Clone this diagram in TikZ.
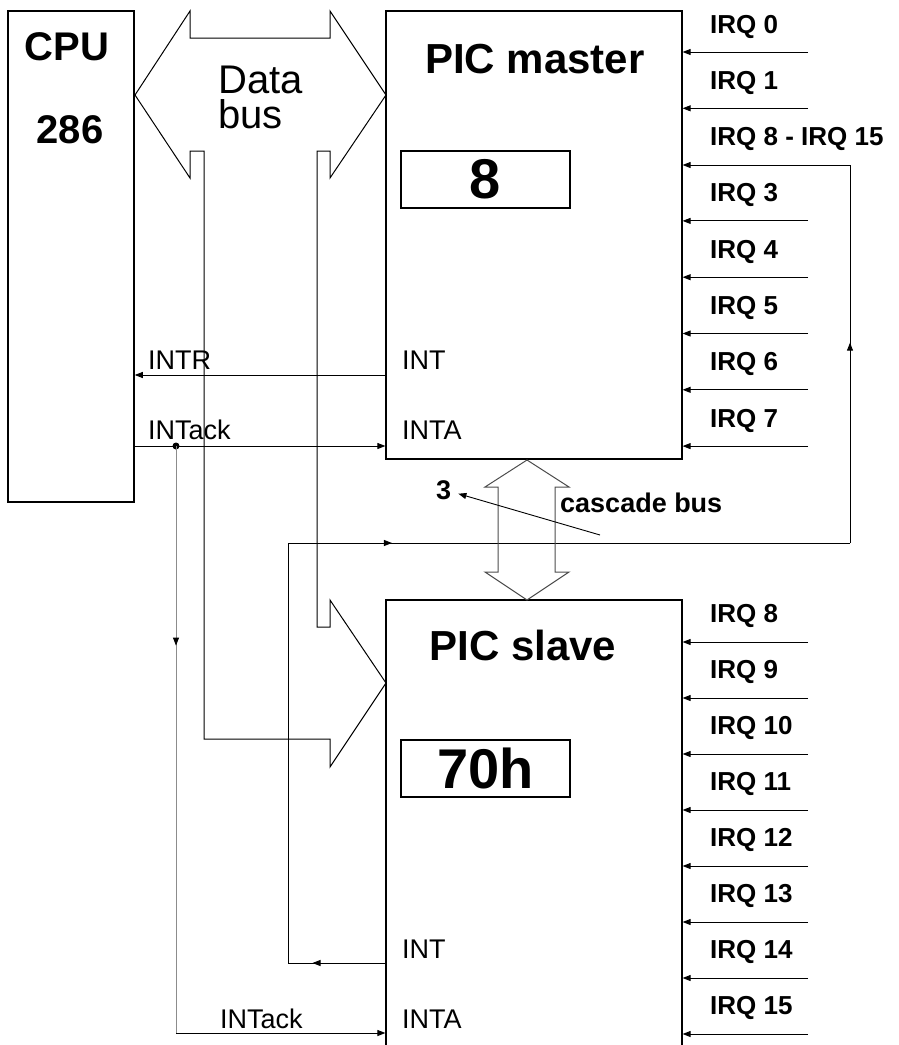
\documentclass[tikz,border=0pt]{standalone}
\usepackage{fontspec}
\setmainfont{Liberation Sans}
\usetikzlibrary{arrows.meta, positioning, calc, decorations.markings}

\tikzset{
  chip/.style={draw, line width=1.2pt, inner sep=0pt},
  regbox/.style={draw, line width=2pt, inner sep=0pt, minimum width=169pt, minimum height=57pt,
    font=\fontsize{56}{56}\selectfont\bfseries},
  wire/.style={line width=0.9pt},
  tip/.style={-{Triangle[length=8pt,width=6pt]}},
  midtip/.style={postaction={decorate}, decoration={markings,
    mark=at position #1 with {\arrow{Triangle[length=8pt,width=6pt]}}}},
  title/.style={font=\fontsize{42}{42}\selectfont\bfseries, anchor=base, inner sep=0pt},
  sig/.style={font=\fontsize{27}{27}\selectfont, anchor=base west, inner sep=0pt},
  irq/.style={font=\fontsize{26}{26}\selectfont\bfseries, anchor=base west, inner sep=0pt},
}

\begin{document}
\begin{tikzpicture}[x=1pt,y=-1pt]
  \useasboundingbox (0,0) rectangle (899,1045);
  % chips
  \node[chip, line width=1.5pt, minimum width=126pt, minimum height=491pt] (cpu) at (71,256.5) {};
  \node[chip, minimum width=296pt, minimum height=448pt] (master) at (534,235) {};
  \node[chip, minimum width=296pt, minimum height=470pt] (slave) at (534,835) {};
  \node[regbox] (vecm) at (485.5,179.5) {8};
  \node[regbox] (vecs) at (485.5,768.5) {70h};
  % titles
  \node[font=\fontsize{40}{40}\selectfont\bfseries, anchor=base, inner sep=0pt] (cpuname) at (67,60) {CPU};
  \node[font=\fontsize{40}{40}\selectfont\bfseries, anchor=base, inner sep=0pt] (cputype) at (70,143) {286};
  \node[title] (mname) at (535,73) {PIC master};
  \node[title] (sname) at (523,660) {PIC slave};
  % data bus
  \draw[line width=1pt, line join=miter]
    (135,95) -- (190,11) -- (190,38) -- (330,38) -- (330,11) -- (386,95) -- (330,178)
    -- (330,151) -- (317,151) -- (317,627) -- (330,627) -- (330,600) -- (386,683)
    -- (330,767) -- (330,739) -- (204,739) -- (204,151) -- (190,151) -- (190,178) -- cycle;
  \node[font=\fontsize{40}{35}\selectfont, align=left, anchor=base west, inner sep=0pt] (busname)
    at (218,128) {Data\\bus};
  % signal names
  \node[sig] (lintr) at (148,369) {INTR};
  \node[sig] (lack) at (148,439) {INTack};
  \node[sig] (lintm) at (402,369) {INT};
  \node[sig] (lintam) at (402,439) {INTA};
  \node[sig] (lints) at (402,958) {INT};
  \node[sig] (lintas) at (402,1028) {INTA};
  \node[sig] (lacks) at (220,1028) {INTack};
  % INT / INTA wires
  \coordinate (mint) at (386,375);
  \draw[wire, tip] (mint) -- (mint -| cpu.east);
  \coordinate (cack) at (134,446);
  \draw[wire, tip] (cack) -- (cack -| master.west);
  \node[circle, fill, inner sep=0pt, minimum size=7pt] (tap) at (176,446) {};
  \coordinate (sack) at (176,1033);
  \draw[wire, black!45] (tap.center) -- (sack);
  \draw[wire, draw=none, midtip=0.34] (tap.center) -- (sack);
  \draw[wire, tip] (sack) -- (sack -| slave.west);
  % cascade wire
  \coordinate (sint) at (386,963);
  \coordinate (c1) at (288,963);
  \coordinate (c2) at (288,543);
  \coordinate (c3) at (850,543);
  \coordinate (c4) at (850,165);
  \draw[wire, midtip=0.75] (sint) -- (c1);
  \draw[wire] (c1) -- (c2);
  \draw[wire, midtip=0.185] (c2) -- (c3);
  \draw[wire, midtip=0.53] (c3) -- (c4);
  \draw[wire, tip] (c4) -- (c4 -| master.east);
  % cascade bus
  \draw[line width=1pt, black!70, line join=miter]
    (527,460) -- (569,487) -- (555,487) -- (555,572) -- (569,572) -- (527,600)
    -- (485,572) -- (498,572) -- (498,487) -- (485,487) -- cycle;
  \node[font=\fontsize{27}{27}\selectfont\bfseries, anchor=base west, inner sep=0pt] (cnt) at (436,499) {3};
  \node[font=\fontsize{27}{27}\selectfont\bfseries, anchor=base west, inner sep=0pt] (cbus) at (560,512) {cascade bus};
  \coordinate (cfrom) at (600,535);
  \draw[wire, tip] (cfrom) -- ($(cnt.east)+(7,4)$);
  % interrupt request lines
  \foreach \lbl [count=\i from 0] in {IRQ 0, IRQ 1, IRQ 8 - IRQ 15, IRQ 3, IRQ 4, IRQ 5, IRQ 6, IRQ 7} {
    \pgfmathsetmacro\y{52+56.3*\i}
    \node[irq] (irqm\i) at (710,\y-19) {\lbl};
    \ifnum\i=2 \else
      \coordinate (inm\i) at (808,\y);
      \draw[wire, tip] (inm\i) -- (inm\i -| master.east);
    \fi
  }
  \foreach \n [count=\i from 0] in {8,...,15} {
    \pgfmathsetmacro\y{642+56*\i}
    \node[irq] (irqs\i) at (710,\y-20) {IRQ \n};
    \coordinate (ins\i) at (808,\y);
    \draw[wire, tip] (ins\i) -- (ins\i -| slave.east);
  }
\end{tikzpicture}
\end{document}
